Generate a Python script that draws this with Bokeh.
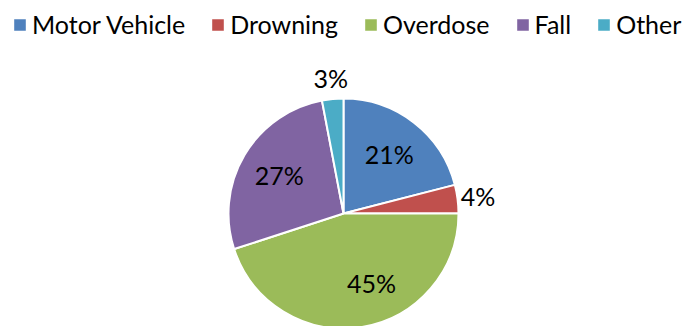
import math

from bokeh.core.properties import value
from bokeh.embed import file_html
from bokeh.models import ColumnDataSource, Range1d
from bokeh.plotting import figure
from bokeh.resources import INLINE

# Share of deaths by cause (percent)
causes = ["Motor Vehicle", "Drowning", "Overdose", "Fall", "Other"]
shares = [21, 4, 45, 27, 3]
colors = ["#4F81BD", "#C0504D", "#9BBB59", "#8064A2", "#4BACC6"]

W, H = 683, 326
CX, CY, R = 343, 113, 115
FONT = "Lato"
FONT_SIZE = "25px"

# best-fit nudge (degrees) for labels that would sit too low in their slice
label_angle_shift = {"Overdose": 13}

total = float(sum(shares))
starts, ends, lx, ly = [], [], [], []
acc = 0.0
for name, v in zip(causes, shares):
    a0 = math.pi / 2 - acc / total * 2 * math.pi
    acc += v
    a1 = math.pi / 2 - acc / total * 2 * math.pi
    starts.append(a0)
    ends.append(a1)
    mid = (a0 + a1) / 2 + math.radians(label_angle_shift.get(name, 0))
    # small slices get their label outside the pie
    rf = 1.18 if v / total < 0.05 else 0.65
    lx.append(CX + rf * R * math.cos(mid))
    ly.append(CY + rf * R * math.sin(mid))

src = ColumnDataSource(dict(
    cause=causes, share=shares, color=colors,
    start=starts, end=ends,
    lx=lx, ly=ly, label=[f"{v}%" for v in shares],
))

p = figure(width=W, height=H, output_backend="svg", toolbar_location=None,
           x_range=Range1d(0, W), y_range=Range1d(0, H),
           min_border=0, outline_line_color=None)
p.axis.visible = False
p.grid.visible = False
p.background_fill_color = "white"

p.wedge(x=CX, y=CY, radius=R, start_angle="start", end_angle="end",
        direction="clock", fill_color="color", line_color="white",
        line_width=2, source=src, legend_field="cause")

p.text(x="lx", y="ly", text="label", source=src,
       text_align="center", text_baseline="middle",
       text_font=value(FONT), text_font_size=FONT_SIZE, text_color="black")

leg = p.legend[0]
leg.orientation = "horizontal"
leg.location = (11, 287)
leg.padding = 0
leg.margin = 0
leg.border_line_color = None
leg.background_fill_alpha = 0
leg.glyph_width = 17
leg.glyph_height = 17
leg.label_standoff = 4
leg.spacing = 24
leg.label_text_font = FONT
leg.label_text_font_size = FONT_SIZE
leg.label_text_color = "black"

open("out.html", "w").write(file_html(p, INLINE))
